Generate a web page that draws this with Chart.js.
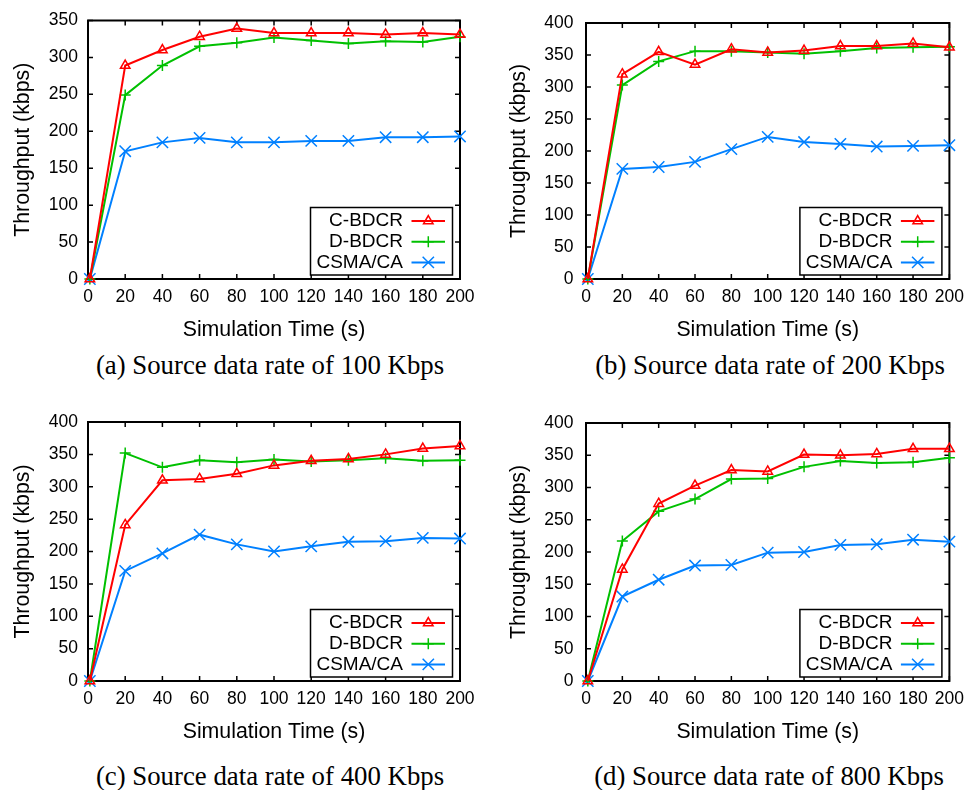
<!DOCTYPE html>
<html><head><meta charset="utf-8">
<script src="https://cdn.jsdelivr.net/npm/chart.js@4.4.1/dist/chart.umd.min.js"></script>
<style>
html,body{margin:0;padding:0;background:#fff;}
#wrap{position:relative;width:972px;height:790px;overflow:hidden;background:#fff;}
canvas{position:absolute;}
.cap{position:absolute;width:420px;font-family:"Liberation Serif","Times New Roman",serif;font-size:26.8px;line-height:30px;white-space:nowrap;text-align:center;color:#000;}
</style></head>
<body><div id="wrap">
<canvas id="ca" width="486" height="345" style="left:0;top:0"></canvas>
<canvas id="cb" width="486" height="345" style="left:486px;top:0"></canvas>
<canvas id="cc" width="486" height="345" style="left:0;top:400px"></canvas>
<canvas id="cd" width="486" height="345" style="left:486px;top:400px"></canvas>
<div class="cap" style="left:60px;top:350px">(a) Source data rate of 100 Kbps</div>
<div class="cap" style="left:560px;top:350px">(b) Source data rate of 200 Kbps</div>
<div class="cap" style="left:60px;top:761px">(c) Source data rate of 400 Kbps</div>
<div class="cap" style="left:559px;top:761px">(d) Source data rate of 800 Kbps</div>
</div>
<script>
// ---- data ----
const seriesNames = ['C-BDCR', 'D-BDCR', 'CSMA/CA'];
const timeS = [1, 20, 40, 60, 80, 100, 120, 140, 160, 180, 200];
const xTickValues = [0, 20, 40, 60, 80, 100, 120, 140, 160, 180, 200];
const yTicks350 = [0, 50, 100, 150, 200, 250, 300, 350];
const yTicks400 = [0, 50, 100, 150, 200, 250, 300, 350, 400];
const xTitle = 'Simulation Time (s)';
const yTitle = 'Throughput (kbps)';

// (a) 100 Kbps
const cbdcrA = [0, 289, 310, 328, 339, 333, 333, 333, 331, 333, 331];
const dbdcrA = [0, 249, 289, 315, 320, 327, 323, 319, 322, 321, 328];
const csmaA  = [0, 173, 185, 191, 185, 185, 187, 187, 192, 192, 193];
// (b) 200 Kbps
const cbdcrB = [0, 320, 355, 335, 359, 354, 357, 364, 364, 368, 362];
const dbdcrB = [0, 303, 340, 356, 356, 354, 352, 356, 361, 362, 363];
const csmaB  = [0, 172, 175, 183, 203, 222, 214, 211, 207, 208, 209];
// (c) 400 Kbps
const cbdcrC = [0, 241, 310, 312, 320, 333, 340, 343, 350, 359, 363];
const dbdcrC = [0, 352, 330, 341, 338, 342, 339, 341, 344, 340, 341];
const csmaC  = [0, 170, 197, 226, 211, 200, 208, 215, 216, 221, 220];
// (d) 800 Kbps
const cbdcrD = [0, 173, 275, 303, 327, 325, 351, 350, 352, 360, 360];
const dbdcrD = [0, 217, 263, 282, 313, 314, 332, 341, 338, 339, 346];
const csmaD  = [0, 131, 157, 179, 180, 199, 200, 211, 212, 219, 216];

// ---- styles ----
const seriesStyles = [
  {color: '#ff0000', pointStyle: 'triangle', radius: 5.5},
  {color: '#00c000', pointStyle: 'cross', radius: 5.5},
  {color: '#0080ff', pointStyle: 'crossRot', radius: 8}
];

const panels = [
  {id: 'ca', series: [cbdcrA, dbdcrA, csmaA], yMax: 350, yTicks: yTicks350,
   area: {left: 88, top: 19, right: 460, bottom: 279}, yTitlePad: 10, yTickPad: 10, xTitlePad: 2},
  {id: 'cb', series: [cbdcrB, dbdcrB, csmaB], yMax: 400, yTicks: yTicks400,
   area: {left: 100, top: 19, right: 471, bottom: 279}, yTitlePad: 20, yTickPad: 12.5, xTitlePad: 2},
  {id: 'cc', series: [cbdcrC, dbdcrC, csmaC], yMax: 400, yTicks: yTicks400,
   area: {left: 88, top: 22, right: 460, bottom: 281}, yTitlePad: 10, yTickPad: 10, xTitlePad: 0},
  {id: 'cd', series: [cbdcrD, dbdcrD, csmaD], yMax: 400, yTicks: yTicks400,
   area: {left: 100, top: 22.5, right: 471, bottom: 281}, yTitlePad: 20, yTickPad: 12.5, xTitlePad: 0}
];

Chart.defaults.font.family = '"Liberation Sans", Arial, Helvetica, sans-serif';
Chart.defaults.color = '#000';

const framePlugin = {
  id: 'frameTicks',
  beforeDatasetsDraw(chart) {
    const {ctx, chartArea: a, scales} = chart;
    const tl = 5;
    ctx.save();
    ctx.strokeStyle = '#000';
    ctx.lineWidth = 1.5;
    ctx.beginPath();
    scales.x.ticks.forEach(t => {
      const px = scales.x.getPixelForValue(t.value);
      ctx.moveTo(px, a.bottom); ctx.lineTo(px, a.bottom - tl);
      ctx.moveTo(px, a.top); ctx.lineTo(px, a.top + tl);
    });
    scales.y.ticks.forEach(t => {
      const py = scales.y.getPixelForValue(t.value);
      ctx.moveTo(a.left, py); ctx.lineTo(a.left + tl, py);
      ctx.moveTo(a.right, py); ctx.lineTo(a.right - tl, py);
    });
    ctx.stroke();
    ctx.lineWidth = 2;
    ctx.strokeRect(a.left, a.top, a.right - a.left, a.bottom - a.top);
    ctx.restore();
  }
};

const boxLegendPlugin = {
  id: 'boxLegend',
  afterDatasetsDraw(chart) {
    const {ctx, chartArea: a} = chart;
    const w = 142, h = 67.5;
    const left = a.right - 7.5 - w, top = a.bottom - 4 - h;
    ctx.save();
    ctx.fillStyle = '#fff';
    ctx.fillRect(left, top, w, h);
    ctx.strokeStyle = '#000';
    ctx.lineWidth = 1.5;
    ctx.strokeRect(left, top, w, h);
    ctx.font = '19px "Liberation Sans", Arial, sans-serif';
    ctx.textAlign = 'right';
    ctx.textBaseline = 'middle';
    chart.data.datasets.forEach((ds, i) => {
      const y = top + 13.5 + i * 20.7;
      ctx.fillStyle = '#000';
      ctx.fillText(ds.label, left + 92.5, y);
      ctx.strokeStyle = ds.borderColor;
      ctx.lineWidth = 2;
      ctx.beginPath();
      ctx.moveTo(left + 101, y); ctx.lineTo(left + 134.5, y);
      ctx.stroke();
      ctx.lineWidth = 1.5;
      ctx.fillStyle = 'rgba(0,0,0,0)';
      Chart.helpers.drawPoint(ctx, {pointStyle: ds.pointStyle, radius: ds.pointRadius, borderWidth: 1.5, rotation: 0}, left + 117.8, y);
    });
    ctx.restore();
  }
};

panels.forEach(p => {
  const canvas = document.getElementById(p.id);
  const W = canvas.width, H = canvas.height;
  const datasets = p.series.map((vals, i) => ({
    label: seriesNames[i],
    data: timeS.map((t, k) => ({x: t, y: vals[k]})),
    borderColor: seriesStyles[i].color,
    backgroundColor: 'rgba(0,0,0,0)',
    pointBorderColor: seriesStyles[i].color,
    pointBackgroundColor: 'rgba(0,0,0,0)',
    pointStyle: seriesStyles[i].pointStyle,
    pointRadius: seriesStyles[i].radius,
    pointBorderWidth: 1.5,
    borderWidth: 2,
    tension: 0,
    fill: false,
    clip: false
  }));
  new Chart(canvas, {
    type: 'line',
    data: {datasets},
    options: {
      responsive: false,
      animation: false,
      events: [],
      layout: {padding: {left: 0, top: p.area.top, right: W - p.area.right, bottom: 0}},
      plugins: {legend: {display: false}, tooltip: {enabled: false}, title: {display: false}},
      scales: {
        x: {
          type: 'linear', min: 0, max: 200,
          grid: {display: false, drawTicks: false},
          border: {display: false},
          ticks: {padding: 8, maxRotation: 0, autoSkip: false, font: {size: 17.5}, color: '#000'},
          afterBuildTicks: s => { s.ticks = xTickValues.map(v => ({value: v})); },
          afterFit: s => { s.height = H - p.area.bottom; },
          title: {display: true, text: xTitle, font: {size: 21.3}, color: '#000', padding: {top: 0, bottom: p.xTitlePad}}
        },
        y: {
          type: 'linear', min: 0, max: p.yMax,
          grid: {display: false, drawTicks: false},
          border: {display: false},
          ticks: {padding: p.yTickPad, autoSkip: false, font: {size: 17.5}, color: '#000'},
          afterBuildTicks: s => { s.ticks = p.yTicks.map(v => ({value: v})); },
          afterFit: s => { s.width = p.area.left; },
          title: {display: true, text: yTitle, font: {size: 21.3}, color: '#000', padding: {top: p.yTitlePad, bottom: 0}}
        }
      }
    },
    plugins: [framePlugin, boxLegendPlugin]
  });
});
</script>
</body></html>
